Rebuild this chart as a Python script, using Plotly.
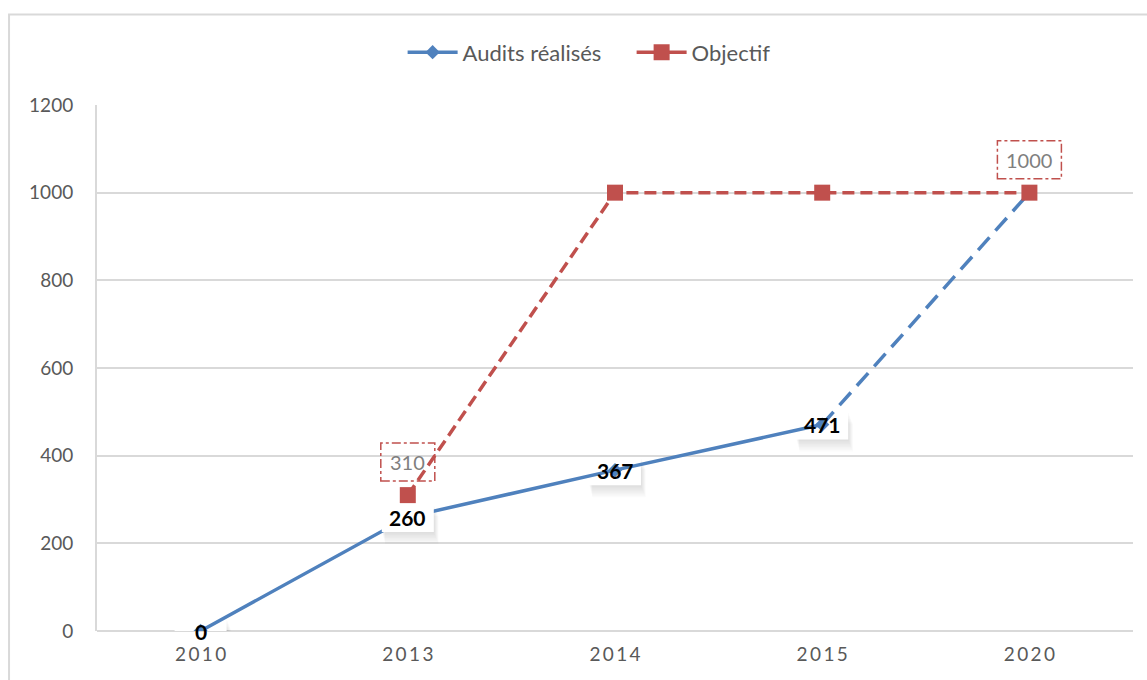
import plotly.graph_objects as go

# Years shown on the category axis
years = ["2010", "2013", "2014", "2015", "2020"]
# Audits carried out (solid part up to 2015, projected to 2020)
audits = [0, 260, 367, 471, None]
audits_projection = [None, None, None, 471, 1000]
# Target values
objectif = [None, 310, 1000, 1000, 1000]
# Which years carry an explicit label
audit_labels_years = ["2010", "2013", "2014", "2015"]
objectif_label_years = ["2013", "2020"]

BLUE = "#4F81BD"
RED = "#C0504D"
GRID = "#d9d9d9"
TXT = "#595959"
FONT = "Lato"

tick_text = ["\u2009".join(list(y)) for y in years]

fig = go.Figure()

fig.add_trace(go.Scatter(
    x=years, y=audits, name="Audits réalisés", mode="lines+markers",
    line=dict(color=BLUE, width=3.5),
    marker=dict(symbol="diamond", size=11, color=BLUE),
))
fig.add_trace(go.Scatter(
    x=years, y=audits_projection, name="Audits réalisés", mode="lines",
    line=dict(color=BLUE, width=3.5, dash="17px,9px"),
    showlegend=False, hoverinfo="skip",
))
fig.add_trace(go.Scatter(
    x=years, y=objectif, name="Objectif", mode="lines+markers",
    line=dict(color=RED, width=3.5, dash="12px,6px"),
    marker=dict(symbol="square", size=16, color=RED),
    legendgroup="obj", showlegend=False,
))
# Legend entry for the target: solid line with a square
fig.add_trace(go.Scatter(
    x=[None], y=[None], name="Objectif", mode="lines+markers",
    line=dict(color=RED, width=3.5),
    marker=dict(symbol="square", size=16, color=RED),
    legendgroup="obj", hoverinfo="skip",
))

shapes = []
annotations = []

# Labels of the realised audits: white boxes with a soft shadow
for yr in audit_labels_years:
    i = years.index(yr)
    v = audits[i]
    for k in range(1, 9):
        shapes.append(dict(
            type="rect", xref="x", yref="y", xsizemode="pixel", ysizemode="pixel",
            xanchor=i, yanchor=v, x0=-26 + k * 0.4, x1=26 + k * 0.6,
            y0=-15 - k * 1.5, y1=13 - k * 1.5,
            fillcolor="rgba(0,0,0,0.014)", line=dict(width=0), layer="between",
        ))
    shapes.append(dict(
        type="rect", xref="x", yref="y", xsizemode="pixel", ysizemode="pixel",
        xanchor=i, yanchor=v, x0=-26, x1=26, y0=-15, y1=13,
        fillcolor="white", line=dict(width=0),
        layer="above" if yr == "2013" else "between",
    ))
    annotations.append(dict(
        x=i, y=v, xref="x", yref="y", text=f"<b>{v}</b>", showarrow=False,
        font=dict(family=FONT, size=21, color="black"),
    ))

# Labels of the target values: dash-dot frames above the markers
for yr in objectif_label_years:
    i = years.index(yr)
    v = objectif[i]
    half = 27 if v < 1000 else 32
    shapes.append(dict(
        type="rect", xref="x", yref="y", xsizemode="pixel", ysizemode="pixel",
        xanchor=i, yanchor=v, x0=-half, x1=half, y0=14, y1=52,
        line=dict(color=RED, width=1.5, dash="dashdot"), fillcolor="rgba(0,0,0,0)",
        layer="above",
    ))
    annotations.append(dict(
        x=i, y=v, xref="x", yref="y", text=str(v), showarrow=False, yshift=33,
        font=dict(family=FONT, size=20, color="#7f7f7f"),
    ))

# Outer chart frame
shapes.append(dict(
    type="rect", xref="paper", yref="paper", x0=-0.0849, x1=1.2, y0=-0.2, y1=1.172,
    line=dict(color=GRID, width=2), fillcolor="rgba(0,0,0,0)", layer="below",
))

fig.update_layout(
    width=1147, height=680,
    margin=dict(l=97, r=14, t=105, b=49),
    paper_bgcolor="white", plot_bgcolor="white",
    font=dict(family=FONT, color=TXT, size=19),
    shapes=shapes, annotations=annotations,
    showlegend=True,
    legend=dict(
        orientation="h", x=0.295, xanchor="left", y=1.1, yanchor="middle",
        font=dict(family=FONT, size=22, color=TXT), itemwidth=50,
        entrywidth=164, entrywidthmode="pixels",
        bgcolor="rgba(0,0,0,0)",
    ),
    xaxis=dict(
        type="category", categoryorder="array", categoryarray=years,
        tickvals=years, ticktext=tick_text, range=[-0.5, 4.5],
        showgrid=False, showline=False, zeroline=False, ticks="",
        tickfont=dict(family=FONT, size=19, color=TXT), ticklabelstandoff=10,
    ),
    yaxis=dict(
        range=[0, 1200], dtick=200, showgrid=True, gridcolor=GRID, gridwidth=2,
        showline=True, linecolor=GRID, linewidth=2,
        zeroline=True, zerolinecolor=GRID, zerolinewidth=2, ticks="",
        tickfont=dict(family=FONT, size=19, color=TXT), ticklabelstandoff=18,
    ),
)

fig.write_html("out.html")
